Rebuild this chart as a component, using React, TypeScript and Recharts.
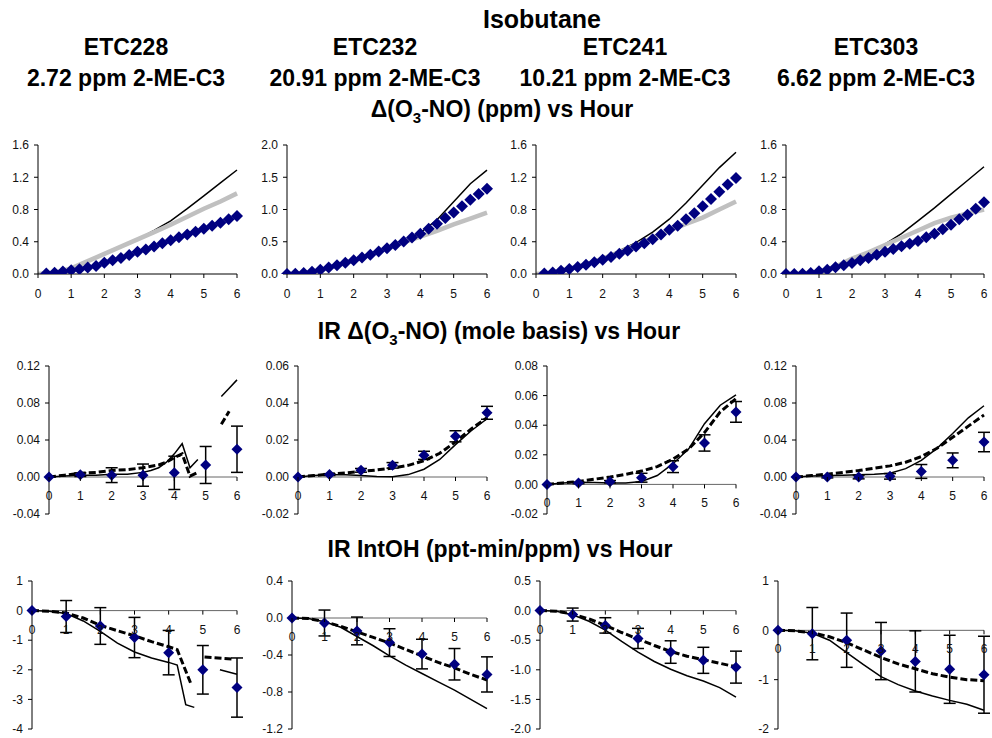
import React from "react";
import {
  ComposedChart,
  Line,
  Scatter,
  XAxis,
  YAxis,
  ErrorBar,
  ReferenceLine,
} from "recharts";

const FONT = "'Liberation Sans', Arial, sans-serif";

// ---- shared x values (hours) ----
const QUARTER_HOURS = [
  0, 0.25, 0.5, 0.75, 1, 1.25, 1.5, 1.75, 2, 2.25, 2.5, 2.75, 3, 3.25, 3.5,
  3.75, 4, 4.25, 4.5, 4.75, 5, 5.25, 5.5, 5.75, 6,
];
const HOURS = [0, 1, 2, 3, 4, 5, 6];
const MODEL_HOURS = [0, 0.5, 1, 1.5, 2, 2.5, 3, 3.5, 4, 4.5, 5, 5.5, 6];
const X_TICKS = [0, 1, 2, 3, 4, 5, 6];

// ---- titles ----
const COMPOUND = "Isobutane";
const RUNS = ["ETC228", "ETC232", "ETC241", "ETC303"];
const CONCS = [
  "2.72 ppm 2-ME-C3",
  "20.91 ppm 2-ME-C3",
  "10.21 ppm 2-ME-C3",
  "6.62 ppm 2-ME-C3",
];

// ---- row 1: d(O3-NO) (ppm), experiment every 15 min, base model (black), adjusted model (grey) ----
const dO3_exp_228 = [null, 0.005, 0.015, 0.03, 0.045, 0.06, 0.08, 0.1, 0.14, 0.17, 0.2, 0.235, 0.275, 0.305, 0.34, 0.38, 0.42, 0.455, 0.49, 0.525, 0.56, 0.6, 0.635, 0.68, 0.72];
const dO3_exp_232 = [0, 0.005, 0.015, 0.035, 0.065, 0.1, 0.135, 0.175, 0.215, 0.255, 0.3, 0.35, 0.4, 0.45, 0.505, 0.565, 0.625, 0.7, 0.78, 0.87, 0.955, 1.05, 1.15, 1.24, 1.32];
const dO3_exp_241 = [null, 0.005, 0.02, 0.04, 0.062, 0.087, 0.115, 0.145, 0.178, 0.21, 0.25, 0.29, 0.34, 0.38, 0.43, 0.49, 0.55, 0.6, 0.68, 0.755, 0.84, 0.93, 1.02, 1.11, 1.19];
const dO3_exp_303 = [0, 0, 0.004, 0.012, 0.033, 0.054, 0.083, 0.11, 0.136, 0.17, 0.2, 0.24, 0.275, 0.31, 0.345, 0.375, 0.41, 0.455, 0.5, 0.555, 0.61, 0.68, 0.735, 0.81, 0.89];

const dO3_base_228 = [0, 0.01, 0.07, 0.16, 0.25, 0.34, 0.43, 0.54, 0.66, 0.81, 0.97, 1.13, 1.29];
const dO3_adj_228 = [0, 0.015, 0.07, 0.16, 0.25, 0.34, 0.43, 0.52, 0.61, 0.71, 0.81, 0.9, 1.0];
const dO3_base_232 = [0, 0.015, 0.06, 0.13, 0.21, 0.3, 0.4, 0.5, 0.64, 0.84, 1.12, 1.4, 1.61];
const dO3_adj_232 = [0, 0.015, 0.06, 0.13, 0.21, 0.3, 0.4, 0.49, 0.58, 0.67, 0.77, 0.86, 0.95];
const dO3_base_241 = [0, 0.015, 0.065, 0.13, 0.2, 0.29, 0.39, 0.52, 0.68, 0.88, 1.1, 1.32, 1.51];
const dO3_adj_241 = [0, 0.015, 0.065, 0.12, 0.19, 0.27, 0.36, 0.45, 0.54, 0.62, 0.7, 0.8, 0.9];
const dO3_base_303 = [0, 0.005, 0.03, 0.08, 0.16, 0.25, 0.37, 0.5, 0.66, 0.82, 0.99, 1.16, 1.33];
const dO3_adj_303 = [0, 0.005, 0.03, 0.09, 0.19, 0.27, 0.36, 0.45, 0.54, 0.63, 0.7, 0.75, 0.8];

// ---- row 2: IR d(O3-NO) (mole basis) ----
const irO3_exp_228 = [0, 0.0025, 0.002, 0.002, 0.0045, 0.013, 0.03];
const irO3_err_228 = [0, 0.002, 0.008, 0.012, 0.018, 0.02, 0.025];
const irO3_solid_x_228 = [0, 0.5, 1, 1.5, 2, 2.5, 3, 3.25, 3.5, 3.75, 4, 4.25, 4.5, 4.75, 5, 5.5, 5.75, 6];
const irO3_solid_228 = [0, 0.001, 0.002, 0.002, 0.003, 0.003, 0.005, 0.007, 0.01, 0.016, 0.025, 0.036, 0.01, 0.019, null, 0.087, 0.096, 0.105];
const irO3_dash_x_228 = [0, 0.5, 1, 1.5, 2, 2.5, 3, 3.5, 3.75, 4, 4.25, 4.5, 4.75, 5, 5.5, 5.75];
const irO3_dash_228 = [0, 0.002, 0.004, 0.005, 0.007, 0.008, 0.01, 0.013, 0.016, 0.021, 0.025, 0.001, 0.005, null, 0.057, 0.071];

const irO3_exp_232 = [0, 0.0013, 0.0036, 0.0063, 0.0117, 0.022, 0.0347];
const irO3_err_232 = [0, 0.0005, 0.001, 0.0015, 0.0022, 0.003, 0.0035];
const irO3_solid_232 = [0, 0.0008, 0.0012, 0.0012, 0.0008, 0.0003, 0.0001, 0.0013, 0.0042, 0.0095, 0.0175, 0.025, 0.0315];
const irO3_dash_232 = [0, 0.0008, 0.0015, 0.0022, 0.003, 0.0038, 0.0048, 0.0063, 0.0088, 0.0128, 0.019, 0.026, 0.032];

const irO3_exp_241 = [0, 0.001, 0.0018, 0.0045, 0.012, 0.028, 0.049];
const irO3_err_241 = [0, 0.0005, 0.0008, 0.003, 0.004, 0.0055, 0.007];
const irO3_solid_241 = [0, 0.001, 0.0015, 0.0012, 0.001, 0.001, 0.002, 0.006, 0.014, 0.024, 0.041, 0.0535, 0.0605];
const irO3_dash_241 = [0, 0.001, 0.002, 0.0035, 0.005, 0.0068, 0.009, 0.012, 0.017, 0.024, 0.035, 0.049, 0.058];

const irO3_exp_303 = [0, 0, 0, 0.0007, 0.006, 0.018, 0.0378];
const irO3_err_303 = [0, 0.001, 0.002, 0.003, 0.0075, 0.008, 0.0105];
const irO3_solid_303 = [0, 0.001, 0.0015, 0.002, 0.0025, 0.003, 0.004, 0.009, 0.018, 0.031, 0.047, 0.064, 0.077];
const irO3_dash_303 = [0, 0.0015, 0.003, 0.005, 0.007, 0.0095, 0.012, 0.016, 0.022, 0.031, 0.043, 0.055, 0.067];

// ---- row 3: IR IntOH (ppt-min/ppm) ----
const irOH_exp_228 = [0, -0.2, -0.52, -0.91, -1.42, -2.0, -2.6];
const irOH_err_228 = [0, 0.54, 0.62, 0.68, 0.75, 0.82, 1.0];
const irOH_solid_x_228 = [0, 0.5, 1, 1.5, 2, 2.5, 3, 3.5, 4, 4.25, 4.5, 4.75, 5, 5.5, 6];
const irOH_solid_228 = [0, -0.02, -0.1, -0.35, -0.7, -1.1, -1.4, -1.6, -1.75, -1.84, -3.18, -3.27, null, -2.0, -2.15];
const irOH_dash_x_228 = [0, 0.5, 1, 1.5, 2, 2.5, 3, 3.5, 4, 4.25, 4.65, 4.85, 5.05, 5.9];
const irOH_dash_228 = [0, -0.02, -0.08, -0.25, -0.5, -0.68, -0.85, -1.05, -1.22, -1.32, -2.47, null, -1.57, -1.64];

const irOH_exp_232 = [0, -0.054, -0.14, -0.266, -0.39, -0.5, -0.61];
const irOH_err_232 = [0, 0.14, 0.15, 0.15, 0.16, 0.17, 0.19];
const irOH_solid_232 = [0, -0.005, -0.04, -0.1, -0.2, -0.3, -0.41, -0.51, -0.6, -0.69, -0.78, -0.88, -0.98];
const irOH_dash_232 = [0, -0.005, -0.04, -0.09, -0.15, -0.21, -0.27, -0.34, -0.41, -0.48, -0.54, -0.61, -0.67];

const irOH_exp_241 = [0, -0.067, -0.25, -0.47, -0.7, -0.84, -0.955];
const irOH_err_241 = [0, 0.11, 0.13, 0.17, 0.19, 0.22, 0.27];
const irOH_solid_241 = [0, -0.01, -0.07, -0.18, -0.33, -0.52, -0.7, -0.86, -0.99, -1.1, -1.19, -1.3, -1.46];
const irOH_dash_241 = [0, -0.01, -0.06, -0.14, -0.25, -0.37, -0.48, -0.59, -0.69, -0.77, -0.83, -0.89, -0.95];

const irOH_exp_303 = [0, -0.067, -0.2, -0.42, -0.63, -0.79, -0.9];
const irOH_err_303 = [0, 0.53, 0.55, 0.58, 0.62, 0.69, 0.78];
const irOH_solid_303 = [0, -0.01, -0.06, -0.2, -0.45, -0.7, -0.94, -1.1, -1.23, -1.33, -1.42, -1.5, -1.62];
const irOH_dash_303 = [0, -0.01, -0.05, -0.13, -0.25, -0.4, -0.55, -0.68, -0.78, -0.88, -0.95, -1.0, -1.02];

// ---- helpers ----
type Pt = { x: number; y: number | null; err?: number };

const zip = (xs: number[], ys: (number | null)[]): Pt[] =>
  xs.map((x, i) => ({ x, y: ys[i] }));

const expPts = (ys: (number | null)[]): Pt[] =>
  QUARTER_HOURS.map((x, i) => ({ x, y: ys[i] })).filter((p) => p.y !== null);

const errPts = (ys: number[], errs: number[]): Pt[] =>
  HOURS.map((x, i) => ({ x, y: ys[i], err: errs[i] }));

type LineSpec = { data: Pt[]; color: string; width: number; dash?: string };

type PanelProps = {
  box: [number, number, number, number];
  domain: [number, number];
  ticks: number[];
  digits: number;
  zeroAxis: boolean;
  lines: LineSpec[];
  exp: Pt[];
  errors: boolean;
  half: number;
};

const Diamond = (half: number) => (props: any) => {
  const { cx, cy } = props;
  if (cx == null || cy == null) return <g />;
  return (
    <path
      d={`M${cx},${cy - half}L${cx + half},${cy}L${cx},${cy + half}L${cx - half},${cy}Z`}
      fill="#000080"
    />
  );
};

function Panel({ box, domain, ticks, digits, zeroAxis, lines, exp, errors, half }: PanelProps) {
  const [l, t, r, b] = box;
  const YW = 50;
  const MT = 8;
  const MR = 10;
  const XH = zeroAxis ? 10 : 28;
  const plotH = b - t;
  const width = r - l + YW + MR;
  const height = plotH + MT + XH;
  const zeroY = MT + (domain[1] / (domain[1] - domain[0])) * plotH;

  const zeroTick = (p: any) => (
    <g>
      <line x1={p.x} x2={p.x} y1={zeroY} y2={zeroY + 4} stroke="#000" />
      <text
        x={p.x}
        y={zeroY + 23}
        textAnchor="middle"
        fontSize={12}
        fontFamily={FONT}
        fill="#111"
      >
        {p.payload.value}
      </text>
    </g>
  );

  return (
    <div style={{ position: "absolute", left: l - YW, top: t - MT }}>
      <ComposedChart
        width={width}
        height={height}
        margin={{ top: MT, right: MR, bottom: 0, left: 0 }}
      >
        <XAxis
          type="number"
          dataKey="x"
          domain={[0, 6]}
          ticks={X_TICKS}
          interval={0}
          height={XH}
          axisLine={zeroAxis ? false : { stroke: "#000" }}
          tickLine={zeroAxis ? false : { stroke: "#000" }}
          tickSize={4}
          tickMargin={11}
          tick={zeroAxis ? zeroTick : { fontSize: 12, fill: "#111", fontFamily: FONT }}
        />
        <YAxis
          type="number"
          dataKey="y"
          domain={domain}
          ticks={ticks}
          interval={0}
          width={YW}
          allowDataOverflow
          axisLine={{ stroke: "#000" }}
          tickLine={{ stroke: "#000" }}
          tickSize={4}
          tickMargin={5}
          tickFormatter={(v: number) => v.toFixed(digits)}
          tick={{ fontSize: 12, fill: "#111", fontFamily: FONT }}
        />
        {zeroAxis && <ReferenceLine y={0} stroke="#666" strokeWidth={1} />}
        {lines.map((ln, i) => (
          <Line
            key={i}
            data={ln.data}
            dataKey="y"
            type="linear"
            stroke={ln.color}
            strokeWidth={ln.width}
            strokeDasharray={ln.dash}
            dot={false}
            activeDot={false}
            isAnimationActive={false}
          />
        ))}
        <Scatter data={exp} dataKey="y" shape={Diamond(half)} isAnimationActive={false}>
          {errors && (
            <ErrorBar dataKey="err" direction="y" width={6} stroke="#000" strokeWidth={1.5} />
          )}
        </Scatter>
      </ComposedChart>
    </div>
  );
}

const BLACK = "#000";
const GREY = "#c0c0c0";
const DASH = "7 3";

const row1 = (base: number[], adj: number[]): LineSpec[] => [
  { data: zip(MODEL_HOURS, base), color: BLACK, width: 1.5 },
  { data: zip(MODEL_HOURS, adj), color: GREY, width: 4.5 },
];

const rowIR = (solid: Pt[], dash: Pt[]): LineSpec[] => [
  { data: solid, color: BLACK, width: 1.5 },
  { data: dash, color: BLACK, width: 3, dash: DASH },
];

const COL_CENTERS = [126, 375, 625, 876];

const titleStyle = (top: number, size: number): React.CSSProperties => ({
  position: "absolute",
  left: 0,
  width: 992,
  top,
  textAlign: "center",
  fontFamily: FONT,
  fontWeight: "bold",
  fontSize: size,
  lineHeight: `${size}px`,
  whiteSpace: "nowrap",
  color: "#000",
});

export default function App() {
  return (
    <div
      style={{
        position: "absolute",
        left: 0,
        top: 0,
        width: 992,
        height: 738,
        background: "#fff",
        overflow: "hidden",
      }}
    >
      <div style={{ ...titleStyle(7, 25), left: 46 }}>{COMPOUND}</div>
      {RUNS.map((run, i) => (
        <React.Fragment key={run}>
          <div style={{ ...titleStyle(36, 23), left: COL_CENTERS[i] - 496 }}>{run}</div>
          <div style={{ ...titleStyle(67, 23), left: COL_CENTERS[i] - 496 }}>{CONCS[i]}</div>
        </React.Fragment>
      ))}
      <div style={{ ...titleStyle(98, 23), left: 6 }}>
        Δ(O<sub style={{ fontSize: 15, lineHeight: 0 }}>3</sub>-NO) (ppm) vs Hour
      </div>
      <div style={{ ...titleStyle(320, 23), left: 3 }}>
        IR Δ(O<sub style={{ fontSize: 15, lineHeight: 0 }}>3</sub>-NO) (mole basis) vs Hour
      </div>
      <div style={{ ...titleStyle(538, 23), left: 4 }}>IR IntOH (ppt-min/ppm) vs Hour</div>

      {/* row 1 */}
      <Panel box={[38, 145, 237, 274]} domain={[0, 1.6]} ticks={[0, 0.4, 0.8, 1.2, 1.6]} digits={1}
        zeroAxis={false} lines={row1(dO3_base_228, dO3_adj_228)} exp={expPts(dO3_exp_228)} errors={false} half={6} />
      <Panel box={[287, 145, 487, 274]} domain={[0, 2]} ticks={[0, 0.5, 1, 1.5, 2]} digits={1}
        zeroAxis={false} lines={row1(dO3_base_232, dO3_adj_232)} exp={expPts(dO3_exp_232)} errors={false} half={6} />
      <Panel box={[536, 145, 736, 274]} domain={[0, 1.6]} ticks={[0, 0.4, 0.8, 1.2, 1.6]} digits={1}
        zeroAxis={false} lines={row1(dO3_base_241, dO3_adj_241)} exp={expPts(dO3_exp_241)} errors={false} half={6} />
      <Panel box={[786, 145, 984, 274]} domain={[0, 1.6]} ticks={[0, 0.4, 0.8, 1.2, 1.6]} digits={1}
        zeroAxis={false} lines={row1(dO3_base_303, dO3_adj_303)} exp={expPts(dO3_exp_303)} errors={false} half={6} />

      {/* row 2 */}
      <Panel box={[49, 366, 237, 514]} domain={[-0.04, 0.12]} ticks={[-0.04, 0, 0.04, 0.08, 0.12]} digits={2}
        zeroAxis lines={rowIR(zip(irO3_solid_x_228, irO3_solid_228), zip(irO3_dash_x_228, irO3_dash_228))}
        exp={errPts(irO3_exp_228, irO3_err_228)} errors half={5.5} />
      <Panel box={[298, 366, 487, 514]} domain={[-0.02, 0.06]} ticks={[-0.02, 0, 0.02, 0.04, 0.06]} digits={2}
        zeroAxis lines={rowIR(zip(MODEL_HOURS, irO3_solid_232), zip(MODEL_HOURS, irO3_dash_232))}
        exp={errPts(irO3_exp_232, irO3_err_232)} errors half={5.5} />
      <Panel box={[547, 366, 736, 514]} domain={[-0.02, 0.08]} ticks={[-0.02, 0, 0.02, 0.04, 0.06, 0.08]} digits={2}
        zeroAxis lines={rowIR(zip(MODEL_HOURS, irO3_solid_241), zip(MODEL_HOURS, irO3_dash_241))}
        exp={errPts(irO3_exp_241, irO3_err_241)} errors half={5.5} />
      <Panel box={[796, 366, 984, 514]} domain={[-0.04, 0.12]} ticks={[-0.04, 0, 0.04, 0.08, 0.12]} digits={2}
        zeroAxis lines={rowIR(zip(MODEL_HOURS, irO3_solid_303), zip(MODEL_HOURS, irO3_dash_303))}
        exp={errPts(irO3_exp_303, irO3_err_303)} errors half={5.5} />

      {/* row 3 */}
      <Panel box={[32, 581, 237, 729]} domain={[-4, 1]} ticks={[-4, -3, -2, -1, 0, 1]} digits={0}
        zeroAxis lines={rowIR(zip(irOH_solid_x_228, irOH_solid_228), zip(irOH_dash_x_228, irOH_dash_228))}
        exp={errPts(irOH_exp_228, irOH_err_228)} errors half={5.5} />
      <Panel box={[292, 581, 487, 729]} domain={[-1.2, 0.4]} ticks={[-1.2, -0.8, -0.4, 0, 0.4]} digits={1}
        zeroAxis lines={rowIR(zip(MODEL_HOURS, irOH_solid_232), zip(MODEL_HOURS, irOH_dash_232))}
        exp={errPts(irOH_exp_232, irOH_err_232)} errors half={5.5} />
      <Panel box={[540, 581, 736, 729]} domain={[-2, 0.5]} ticks={[-2, -1.5, -1, -0.5, 0, 0.5]} digits={1}
        zeroAxis lines={rowIR(zip(MODEL_HOURS, irOH_solid_241), zip(MODEL_HOURS, irOH_dash_241))}
        exp={errPts(irOH_exp_241, irOH_err_241)} errors half={5.5} />
      <Panel box={[778, 581, 984, 729]} domain={[-2, 1]} ticks={[-2, -1, 0, 1]} digits={0}
        zeroAxis lines={rowIR(zip(MODEL_HOURS, irOH_solid_303), zip(MODEL_HOURS, irOH_dash_303))}
        exp={errPts(irOH_exp_303, irOH_err_303)} errors half={5.5} />
    </div>
  );
}
